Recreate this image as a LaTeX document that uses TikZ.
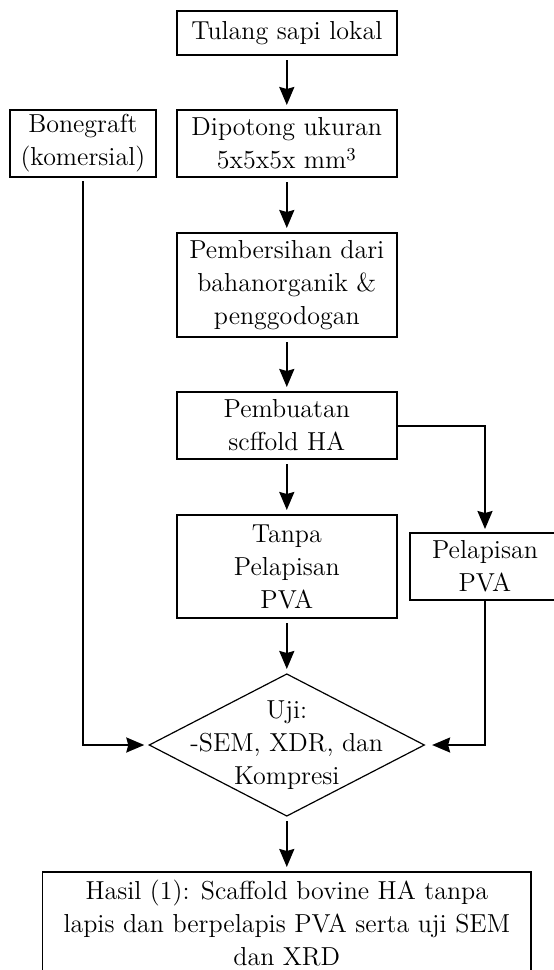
\documentclass[tikz,border=0pt]{standalone}
\usetikzlibrary{positioning,shapes.geometric,arrows.meta}

\begin{document}
\begin{tikzpicture}[
  font=\fontsize{13pt}{16.5pt}\selectfont,
  proses/.style={draw, line width=0.8pt, align=center, inner sep=0pt, outer sep=0pt, minimum width=110pt},
  keputusan/.style={diamond, draw, line width=0.6pt, inner sep=0pt, outer sep=0pt, minimum width=137.5pt, minimum height=71pt},
  panah/.style={-{Stealth[length=9pt,width=7.5pt,inset=1pt]}, line width=1pt},
  lurus/.style={panah, shorten <=2.5pt, shorten >=2.5pt}
]

  \useasboundingbox (0,0) rectangle (276.5pt,-485pt);

  % Nodes

  \node[proses, minimum height=22pt] (tulang) at (143.4pt,-16.5pt) {Tulang sapi lokal} ; %
  \node[proses, below=of tulang, below=27.5pt of tulang, minimum height=33.5pt] (dipotong) {Dipotong ukuran\\5x5x5x mm\textsuperscript{3}} ; %
  \node[proses, left=of dipotong, left=10.5pt of dipotong, minimum width=72.9pt, minimum height=33.5pt] (bonegraft) {Bonegraft\\(komersial)} ; %
  \node[proses, below=of dipotong, below=28pt of dipotong, minimum height=52pt] (pembersihan) {Pembersihan dari\\bahanorganik \&\\penggodogan} ; %
  \node[proses, below=of pembersihan, below=27.5pt of pembersihan, minimum height=33.5pt] (pembuatan) {Pembuatan\\scffold HA} ; %
  \node[proses, below=of pembuatan, below=28pt of pembuatan, minimum height=51.5pt] (tanpa) {Tanpa\\Pelapisan\\PVA} ; %
  \node[proses, right=of tanpa, right=6.7pt of tanpa, minimum width=74.8pt, minimum height=33.5pt] (pelapisan) {Pelapisan\\PVA} ; %

  % Test and result
  \node[keputusan, below=of tanpa, below=28pt of tanpa] (uji) {} ; %
  \node[align=center] (ujitext) at (uji) {Uji:\\-SEM, XDR, dan\\Kompresi} ; %
  \node[proses, below=of uji, below=28pt of uji, minimum width=244.3pt, minimum height=51.5pt] (hasil) {Hasil (1): Scaffold bovine HA tanpa\\lapis dan berpelapis PVA serta uji SEM\\dan XRD} ; %

  % Edges

  \draw[lurus] (tulang) -- (dipotong) ; %
  \draw[lurus] (dipotong) -- (pembersihan) ; %
  \draw[lurus] (pembersihan) -- (pembuatan) ; %
  \draw[lurus] (pembuatan) -- (tanpa) ; %
  \draw[lurus] (tanpa) -- (uji) ; %
  \draw[lurus] (uji) -- (hasil) ; %

  \draw[panah, shorten >=2pt] (pembuatan) -| (pelapisan) ; %
  \draw[panah, shorten <=2pt, shorten >=2.5pt] (bonegraft) |- (uji) ; %
  \draw[panah, shorten >=3.9pt] (pelapisan) |- (uji) ; %

\end{tikzpicture}
\end{document}
